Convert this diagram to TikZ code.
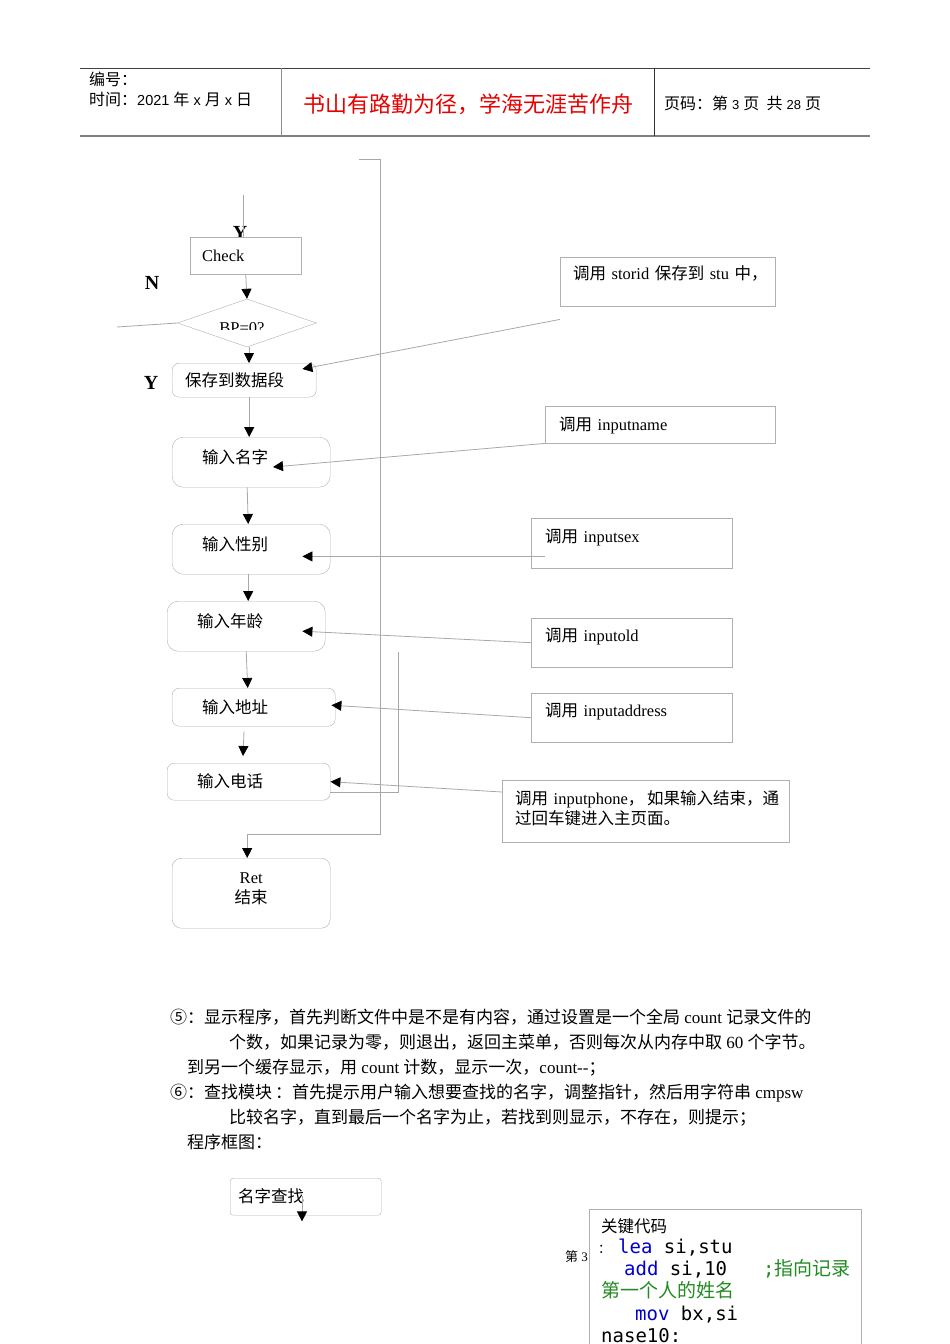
\documentclass[tikz,border=0pt]{standalone}
\usepackage{fontspec}
\setmainfont{Liberation Serif}
\setmonofont{DejaVu Sans Mono}
\newfontfamily\cjk{Noto Sans CJK SC}
\newfontfamily\hdsans{Liberation Sans}
\usetikzlibrary{shapes.geometric, arrows.meta, positioning, calc}
\newcommand{\zh}[1]{{\cjk #1}}
\definecolor{linegray}{HTML}{A8A8A8}
\definecolor{boxgray}{HTML}{B0B0B0}
\definecolor{headred}{HTML}{E60000}
\definecolor{kwblue}{HTML}{0000CD}
\definecolor{cmtgreen}{HTML}{228B22}
\tikzset{
  flowbox/.style={
    draw=boxgray, fill=white, rounded corners=7pt, anchor=north west,
    align=left, inner ysep=0pt, text height=14pt, text depth=2pt,
    font=\fontsize{16.5}{20}\selectfont
  },
  callbox/.style={
    draw=boxgray, fill=white, anchor=north west,
    align=left, inner ysep=0pt, text height=14pt, text depth=2pt,
    font=\fontsize{16.5}{20}\selectfont
  },
  decision/.style={
    diamond, draw=boxgray, fill=white, inner sep=0pt,
    minimum width=139pt, minimum height=48pt
  },
  flowline/.style={draw=linegray, line width=0.8pt},
  flowarrow/.style={
    flowline, -{Triangle[length=10pt, width=10pt, color=black]}
  },
  ynlabel/.style={inner sep=0pt, font=\bfseries\fontsize{20}{24}\selectfont},
  hdtext/.style={anchor=base west, inner sep=0pt, font=\hdsans\fontsize{14.5}{18}\selectfont},
  paratext/.style={anchor=base west, inner sep=0pt, font=\fontsize{17}{25}\selectfont},
  codetext/.style={anchor=base west, inner sep=0pt, font=\ttfamily\fontsize{19}{22}\selectfont},
}
\begin{document}
\begin{tikzpicture}[x=1pt, y=-1pt]
  \useasboundingbox (0,0) rectangle (950,1344);
  \clip (0,0) rectangle (950,1344);

  % page header
  \draw[black!75, line width=1pt] (80,68) -- (870,68);
  \draw[black!50, line width=2pt] (80,136) -- (870,136);
  \draw[black!45, line width=1pt] (281,68) -- (281,136);
  \draw[black!80, line width=1pt] (654,68) -- (654,136);
  \node[hdtext] (hdno) at (89,85) {{\cjk\fontsize{16}{18}\selectfont 编号：}};
  \node[hdtext] (hdtime) at (89,105) {{\cjk\fontsize{16}{18}\selectfont 时间：}2021 {\cjk\fontsize{16}{18}\selectfont 年} x {\cjk\fontsize{16}{18}\selectfont 月} x {\cjk\fontsize{16}{18}\selectfont 日}};
  \node[anchor=base, inner sep=0pt, text=headred, font=\cjk\fontsize{22}{26}\selectfont] (motto) at (468,112) {书山有路勤为径，学海无涯苦作舟};
  \node[hdtext] (hdpage) at (664,109) {{\cjk\fontsize{16}{18}\selectfont 页码：第} {\fontsize{13}{14}\selectfont 3} {\cjk\fontsize{16}{18}\selectfont 页\ \ 共} {\fontsize{13}{14}\selectfont 28} {\cjk\fontsize{16}{18}\selectfont 页}};

  % flow chart
  \coordinate (entry) at (243,195);
  \node[ynlabel] (ytop) at (240,233) {Y};
  \draw[flowline] (entry) -- (entry |- 0,237);
  \node[flowbox, sharp corners, minimum width=111pt, minimum height=37pt, inner xsep=12pt, text width=87pt] (check) at (190,237) {Check};
  \node[ynlabel] (nlab) at (152,283) {N};
  \node[decision] (bp) at (247,323) {};
  \begin{scope}
    \clip (200,318) rectangle (295,329);
    \node[anchor=base, inner sep=0pt, font=\fontsize{16.5}{20}\selectfont] (bptext) at (242,333) {BP=0?};
  \end{scope}
  \coordinate (noexit) at (117,327);
  \node[ynlabel] (ylab) at (151,383) {Y};
  \node[flowbox, minimum width=144pt, minimum height=34pt, inner xsep=13pt, text width=118pt] (save) at (172,363) {\zh{保存到数据段}};
  \node[flowbox, rounded corners=11pt, minimum width=158pt, minimum height=50pt, inner xsep=30pt, text width=98pt, text depth=12pt] (name) at (172,437) {\zh{输入名字}};
  \node[flowbox, rounded corners=11pt, minimum width=158pt, minimum height=50pt, inner xsep=30pt, text width=98pt, text depth=12pt] (sex) at (172,524) {\zh{输入性别}};
  \node[flowbox, rounded corners=11pt, minimum width=158pt, minimum height=50pt, inner xsep=30pt, text width=98pt, text depth=12pt] (age) at (167,601) {\zh{输入年龄}};
  \node[flowbox, minimum width=163pt, minimum height=38pt, inner xsep=30pt, text width=103pt] (addr) at (172,688) {\zh{输入地址}};
  \node[flowbox, minimum width=163pt, minimum height=37pt, inner xsep=30pt, text width=103pt] (phone) at (167,763) {\zh{输入电话}};
  \node[flowbox, rounded corners=9pt, align=center, text height=, text depth=, minimum width=158pt, minimum height=70pt, inner xsep=10pt, text width=138pt] (ret) at (172,858) {Ret\\\zh{结束}\\[-10pt]\mbox{}};

  % called routines
  \node[callbox, minimum width=215pt, minimum height=49pt, inner xsep=13pt, text width=189pt, text depth=18pt] (cstorid) at (560,257) {\mbox{\zh{调用} storid \zh{保存到} stu \zh{中，}}};
  \node[callbox, minimum width=230pt, minimum height=37pt, inner xsep=14pt, text width=202pt] (cname) at (545,406) {\zh{调用} inputname};
  \node[callbox, minimum width=201pt, minimum height=50pt, inner xsep=14pt, text width=173pt, text depth=16pt] (csex) at (531,518) {\zh{调用} inputsex};
  \node[callbox, minimum width=201pt, minimum height=49pt, inner xsep=14pt, text width=173pt, text depth=16pt] (cold) at (531,618) {\zh{调用} inputold};
  \node[callbox, minimum width=201pt, minimum height=49pt, inner xsep=14pt, text width=173pt, text depth=16pt] (caddr) at (531,693) {\zh{调用} inputaddress};
  \node[callbox, text height=, text depth=, minimum width=287pt, minimum height=62pt, inner xsep=13pt, text width=261pt] (cphone) at (502,780) {\mbox{\zh{调用} inputphone\zh{，\,如果输入结束，通}}\\\mbox{\zh{过回车键进入主页面。}}\\[-12pt]\mbox{}};

  \draw[flowarrow] (check.south) -- (bp.north);
  \draw[flowline] (bp.west) -- (noexit);
  \draw[flowarrow] ([xshift=2pt]bp.south) -- ([xshift=2pt]bp.south |- save.north);
  \draw[flowarrow] ([xshift=5pt]save.south) -- ([xshift=5pt]save.south |- name.north);
  \draw[flowarrow] ([xshift=-4pt]name.south) -- ([xshift=-3pt]sex.north);
  \draw[flowarrow] ([xshift=-3pt]sex.south) -- ([xshift=2pt]age.north);
  \draw[flowarrow] (age.south) -- ([xshift=-6pt]addr.north);
  \draw[flowarrow] ($(addr.south west)+(72,5)$) -- ($(phone.north west)+(76,-7)$);

  \draw[flowarrow] ([yshift=-13pt]cstorid.south west) -- ($(save.north east)+(-14,6)$);
  \draw[flowarrow] (cname.south west) -- ($(name.north west)+(101,30)$);
  \draw[flowarrow] ($(csex.south west)+(14,-12)$) -- ($(sex.south east)+(-28,-18)$);
  \draw[flowarrow] (cold.west) -- ($(age.east)+(-23,5)$);
  \draw[flowarrow] (caddr.west) -- ($(addr.east)+(-4,-2)$);
  \draw[flowarrow] ($(cphone.north west)+(0,12)$) -- (phone.east);

  \coordinate (bustop) at (359,159);
  \coordinate (buscorner) at (380,834);
  \draw[flowarrow] (bustop) -| (buscorner) -| ([xshift=-4pt]ret.north);
  \coordinate (bustwo) at (398,652);
  \draw[flowline] (bustwo) |- ([yshift=8pt]phone.south east);

  % text below the chart
  \node[paratext] (para1) at (170,1023) {\zh{⑤：显示程序，首先判断文件中是不是有内容，通过设置是一个全局} count \zh{记录文件的}};
  \node[paratext] (para2) at (229,1048) {\zh{个数，如果记录为零，则退出，返回主菜单，否则每次从内存中取} 60 \zh{个字节。}};
  \node[paratext] (para3) at (187,1073) {\zh{到另一个缓存显示，用} count \zh{计数，显示一次，}count-{}-\zh{；}};
  \node[paratext] (para4) at (170,1098) {\zh{⑥：查找模块\,：首先提示用户输入想要查找的名字，调整指针，然后用字符串} cmpsw};
  \node[paratext] (para5) at (229,1123) {\zh{比较名字，直到最后一个名字为止，若找到则显示，不存在，则提示；}};
  \node[paratext] (para6) at (187,1148) {\zh{程序框图：}};

  \node[flowbox, rounded corners=3pt, minimum width=151pt, minimum height=37pt, inner xsep=8pt, text width=135pt] (find) at (230,1178) {\zh{名字查找}};
  \draw[flowarrow] ($(find.north west)+(72,18)$) -- ($(find.south west)+(72,6)$);

  \node[anchor=base west, inner sep=0pt, font=\fontsize{13}{15}\selectfont] (pagefoot) at (565,1261) {\zh{第} 3};
  \node[draw=boxgray, fill=white, anchor=north west, inner sep=0pt, minimum width=272pt, minimum height=160pt] (code) at (589,1209) {};
  \node[anchor=base west, inner sep=0pt, font=\cjk\fontsize{16.5}{20}\selectfont] (codehead) at (601,1232) {关键代码};
  \node[anchor=base west, inner sep=0pt, font=\cjk\fontsize{13}{15}\selectfont] (codecolon) at (598,1253) {：};
  \node[codetext] (codelea) at (618,1253) {\textcolor{kwblue}{lea} si,stu};
  \node[codetext] (codeadd) at (624,1275) {\textcolor{kwblue}{add} si,10};
  \node[codetext, text=cmtgreen] (codenote) at (763,1275) {;\zh{指向记录}};
  \node[anchor=base west, inner sep=0pt, text=cmtgreen, font=\cjk\fontsize{19}{22}\selectfont] (codenote2) at (601,1297) {第一个人的姓名};
  \node[codetext] (codemov) at (635,1320) {\textcolor{kwblue}{mov} bx,si};
  \node[codetext] (codelabel) at (601,1342) {nase10:};
\end{tikzpicture}
\end{document}
